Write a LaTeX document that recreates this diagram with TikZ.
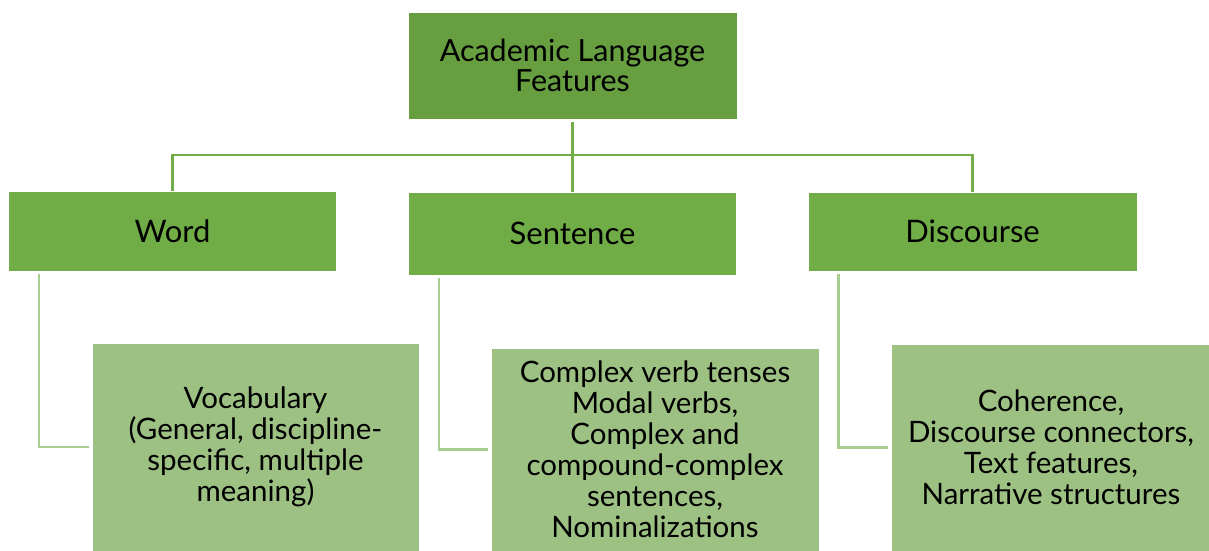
\documentclass[tikz,border=0pt]{standalone}
\usepackage{fontspec}
\setmainfont{Lato}
\begin{document}
\begin{tikzpicture}[x=1pt,y=-1pt,
  box/.style={draw=white,line width=0.8pt,inner sep=0pt,align=center,text=black},
  topbox/.style={box,fill=topgreen,font=\fontsize{30.5}{30.5}\selectfont},
  midbox/.style={box,fill=midgreen,font=\fontsize{31}{31}\selectfont},
  leafbox/.style={box,fill=leafgreen,font=\fontsize{29.5}{31}\selectfont},
  topline/.style={draw=midgreen,line width=2.6pt},
  leafline/.style={draw=lineleaf,line width=2.6pt}]
\definecolor{topgreen}{HTML}{669E40}
\definecolor{midgreen}{HTML}{70AD47}
\definecolor{leafgreen}{HTML}{9DC183}
\definecolor{lineleaf}{HTML}{A9CC91}
\useasboundingbox (0,0) rectangle (1209,550);
% top
\node[topbox,minimum width=329pt,minimum height=107pt] (top) at (572.5,65.5) {Academic Language\\Features};
% level 2
\node[midbox,minimum width=328pt,minimum height=80pt] (word) at (172.5,231) {Word};
\node[midbox,minimum width=328pt,minimum height=83pt] (sent) at (572.5,233.5) {Sentence};
\node[midbox,minimum width=329pt,minimum height=79pt] (disc) at (972.5,231.5) {Discourse};
% leaves
\node[leafbox,minimum width=327pt,minimum height=208pt] (vocab) at (255.5,447) {Vocabulary\\(General, discipline-\\specific, multiple\\meaning)};
\node[leafbox,minimum width=328pt,minimum height=203pt] (sentl) at (655,449.5) {Complex verb tenses\\Modal verbs,\\Complex and\\compound-complex\\sentences,\\Nominalizations};
\node[leafbox,minimum width=320pt,minimum height=207pt] (discl) at (1051,447.5) {Coherence,\\Discourse connectors,\\Text features,\\Narrative structures};
% connectors
\coordinate (bus) at (572.5,155);
\draw[topline] ([yshift=-3pt]top.south) -- (bus);
\draw[topline] (word.north) -- (word.north |- bus) -- (disc.north |- bus) -- (disc.north);
\draw[topline] (bus) -- (sent.north);
\draw[leafline] ([xshift=31pt,yshift=-3pt]word.south west) |- ([xshift=-3pt]vocab.west);
\draw[leafline] ([xshift=31pt,yshift=-3pt]sent.south west) |- ([xshift=-3pt]sentl.west);
\draw[leafline] ([xshift=31pt,yshift=-3pt]disc.south west) |- ([xshift=-3pt]discl.west);
\end{tikzpicture}
\end{document}
